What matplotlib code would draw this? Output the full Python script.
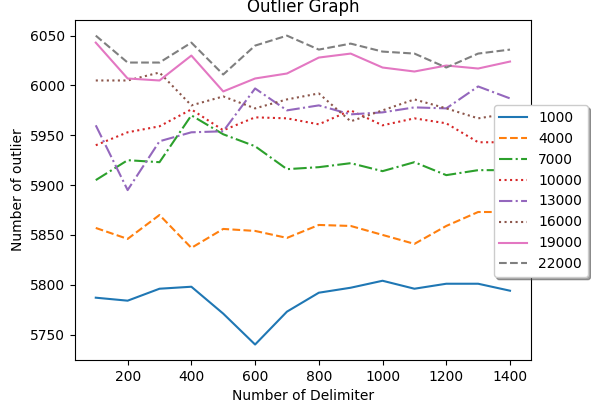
import matplotlib
matplotlib.use('Agg')
import matplotlib.pyplot as plt

# Number of delimiters
delims = [100, 200, 300, 400, 500, 600, 700, 800, 900, 1000, 1100, 1200, 1300, 1400]

# Outlier counts per series
s1000 = [5787, 5784, 5796, 5798, 5771, 5740, 5773, 5792, 5797, 5804, 5796, 5801, 5801, 5794]
s4000 = [5857, 5846, 5870, 5837, 5856, 5854, 5847, 5860, 5859, 5850, 5841, 5859, 5873, 5873]
s7000 = [5905, 5925, 5923, 5970, 5951, 5939, 5916, 5918, 5922, 5914, 5923, 5910, 5915, 5915]
s10000 = [5940, 5953, 5959, 5976, 5955, 5968, 5967, 5961, 5975, 5960, 5967, 5962, 5943, 5943]
s13000 = [5960, 5895, 5944, 5953, 5954, 5997, 5975, 5980, 5971, 5973, 5978, 5977, 5999, 5987]
s16000 = [6005, 6005, 6013, 5980, 5989, 5977, 5986, 5992, 5964, 5975, 5986, 5977, 5967, 5972]
s19000 = [6043, 6007, 6005, 6030, 5994, 6007, 6012, 6028, 6032, 6018, 6014, 6020, 6017, 6024]
s22000 = [6050, 6023, 6023, 6043, 6011, 6040, 6050, 6036, 6042, 6034, 6032, 6018, 6032, 6036]

series = [s1000, s4000, s7000, s10000, s13000, s16000, s19000, s22000]
labels = ['1000', '4000', '7000', '10000', '13000', '16000', '19000', '22000']
styles = ['-', '--', '-.', ':', '-.', ':', '-', '--']

fig, ax = plt.subplots(figsize=(5.91, 4.04), dpi=100)
fig.subplots_adjust(left=0.127, right=0.898, top=0.95, bottom=0.109)

for vals, lab, ls in zip(series, labels, styles):
    ax.plot(delims, vals, linestyle=ls, label=lab)

ax.set_title('Outlier Graph')
ax.set_xlabel('Number of Delimiter')
ax.set_ylabel('Number of outlier')
ax.legend(loc='upper left', bbox_to_anchor=(0.919, 0.75), borderaxespad=0,
          shadow=True, fancybox=True)

plt.savefig('out.png', dpi=100)
